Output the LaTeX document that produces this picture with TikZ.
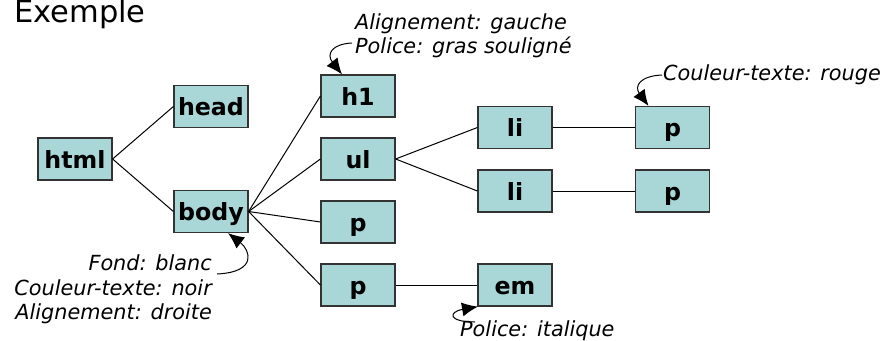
\documentclass[tikz,border=0pt]{standalone}
\usepackage{fontspec}
\setmainfont{DejaVu Sans}
\usetikzlibrary{arrows.meta}
\definecolor{boxfill}{HTML}{A9D6D6}
\definecolor{boxline}{HTML}{333333}
\tikzset{
  elem/.style={draw=boxline, line width=1.2pt, fill=boxfill, minimum width=74pt, minimum height=42pt, inner sep=0pt, text height=22pt, text depth=4pt, font=\fontsize{23.7}{28}\selectfont\bfseries},
  ann/.style={inner sep=0pt, font=\fontsize{20.8}{25}\selectfont\itshape},
  link/.style={line width=1pt, black},
  annarrow/.style={line width=1pt, black, -{Latex[length=16pt,width=14pt]}}
}
\begin{document}
\begin{tikzpicture}[x=1pt,y=-1pt]
\useasboundingbox (0,0) rectangle (886,340);
\node[anchor=base west, inner sep=0pt, font=\fontsize{30.5}{34}\selectfont] (title) at (14,22.5) {Exemple};

\node[elem] (html) at (75,159) {html};
\node[elem] (head) at (211,106.5) {head};
\node[elem] (body) at (211,211.5) {body};
\node[elem] (h1) at (358,96) {h1};
\node[elem] (ul) at (358,159) {ul};
\node[elem] (pa) at (358,222) {p};
\node[elem] (pb) at (358,285) {p};
\node[elem] (li1) at (515,127.5) {li};
\node[elem] (li2) at (515,191) {li};
\node[elem] (em) at (515,285) {em};
\node[elem] (pc) at (672.5,127.5) {p};
\node[elem] (pd) at (672.5,191) {p};

\draw[link] (html.east) -- (head.west);
\draw[link] (html.east) -- (body.west);
\draw[link] (body.east) -- (h1.west);
\draw[link] (body.east) -- (ul.west);
\draw[link] (body.east) -- (pa.west);
\draw[link] (body.east) -- (pb.west);
\draw[link] (ul.east) -- (li1.west);
\draw[link] (ul.east) -- (li2.west);
\draw[link] (li1.east) -- (pc.west);
\draw[link] (li2.east) -- (pd.west);
\draw[link] (pb.east) -- (em.west);

% annotations
\node[ann, anchor=base west] (a1) at (355,29) {Alignement: gauche};
\node[ann, anchor=base west] (a2) at (355,53) {Police: gras souligné};
\node[ann, anchor=base west] (a3) at (663,80) {Couleur-texte: rouge};
\node[ann, anchor=base east] (b1) at (212,270) {Fond: blanc};
\node[ann, anchor=base east] (b2) at (212,295) {Couleur-texte: noir};
\node[ann, anchor=base east] (b3) at (212,319) {Alignement: droite};
\node[ann, anchor=base west] (c1) at (460,336) {Police: italique};

\draw[annarrow] ([xshift=-3pt,yshift=10pt]a2.base west) .. controls (332,44) and (326,54) .. ([xshift=-16pt]h1.north);
\draw[annarrow] ([xshift=-1pt,yshift=5pt]a3.base west) .. controls (640,76) and (634,86) .. ([xshift=-24pt]pc.north);
\draw[annarrow] ([xshift=5pt,yshift=-4pt]b1.base east) .. controls (258,272) and (250,250) .. ([xshift=17pt]body.south);
\draw[annarrow] ([xshift=15pt,yshift=14pt]c1.base west) .. controls (448,322) and (448,312) .. ([xshift=-37pt]em.south);
\end{tikzpicture}
\end{document}
